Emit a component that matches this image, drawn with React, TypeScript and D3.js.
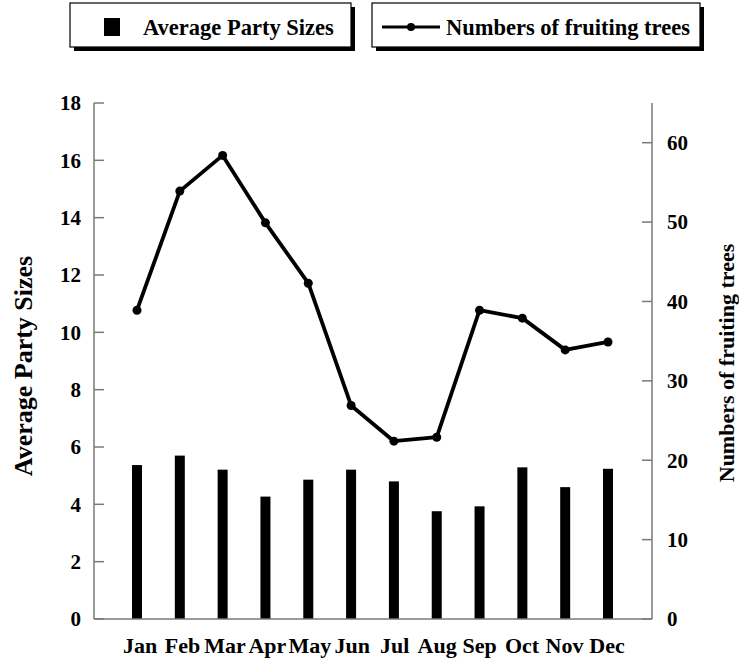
import React from "react";
import * as d3 from "d3";

const months = ["Jan", "Feb", "Mar", "Apr", "May", "Jun", "Jul", "Aug", "Sep", "Oct", "Nov", "Dec"];
const partySizes = [5.37, 5.7, 5.21, 4.27, 4.86, 5.21, 4.8, 3.76, 3.93, 5.29, 4.6, 5.24];
const fruitingTrees = [38.9, 53.9, 58.4, 49.9, 42.3, 26.9, 22.4, 22.9, 38.9, 37.9, 33.9, 34.9];
const leftTicks = [0, 2, 4, 6, 8, 10, 12, 14, 16, 18];
const rightTicks = [0, 10, 20, 30, 40, 50, 60];

const W = 739;
const H = 660;
const FONT = "'Liberation Serif', 'Times New Roman', serif";
const AXIS = "#7a7a7a";

export default function App() {
  const axL = 94;
  const axR = 652;
  const base = 619;
  const top = 103;

  const x = d3.scalePoint<string>().domain(months).range([137, 608]);
  const xLab = d3.scalePoint<string>().domain(months).range([140, 607]);
  const yL = d3.scaleLinear().domain([0, 18]).range([base, top]);
  const yR = d3.scaleLinear().domain([0, 65]).range([base, top]);

  const line = d3
    .line<number>()
    .x((_, i) => x(months[i]) as number)
    .y((d) => yR(d));

  const barW = 10;

  return (
    <svg
      width={W}
      height={H}
      style={{ position: "absolute", left: 0, top: 0, background: "#fff" }}
      fontFamily={FONT}
      fontWeight="bold"
    >
      <rect x={0} y={0} width={W} height={H} fill="#fff" />

      {/* Legend */}
      <g>
        <rect x={74} y={7} width={281} height={44} fill="#000" />
        <rect x={70} y={3} width={281} height={44} fill="#fff" stroke="#000" strokeWidth={1.2} />
        <rect x={104} y={18} width={16} height={18} fill="#000" />
        <text x={143} y={35} fontSize={22.5}>Average Party Sizes</text>

        <rect x={376} y={7} width={328} height={44} fill="#000" />
        <rect x={372} y={3} width={328} height={44} fill="#fff" stroke="#000" strokeWidth={1.2} />
        <line x1={382} x2={440} y1={27} y2={27} stroke="#000" strokeWidth={3} />
        <circle cx={411} cy={27} r={4} fill="#000" />
        <text x={446} y={35} fontSize={22.5}>Numbers of fruiting trees</text>
      </g>

      {/* Bars */}
      {partySizes.map((v, i) => (
        <rect
          key={months[i]}
          x={(x(months[i]) as number) - barW / 2}
          y={yL(v)}
          width={barW}
          height={base - yL(v)}
          fill="#000"
        />
      ))}

      {/* Axes */}
      <line x1={axL} x2={axL} y1={top} y2={base} stroke={AXIS} strokeWidth={1.5} />
      <line x1={axR} x2={axR} y1={top} y2={base} stroke={AXIS} strokeWidth={1.5} />
      <line x1={axL} x2={axR} y1={base} y2={base} stroke={AXIS} strokeWidth={1.5} />

      {leftTicks.map((t) => (
        <g key={"l" + t}>
          <line x1={axL} x2={axL + 10} y1={yL(t)} y2={yL(t)} stroke={AXIS} strokeWidth={1.5} />
          <text x={81} y={yL(t)} dy="0.35em" textAnchor="end" fontSize={21}>
            {t}
          </text>
        </g>
      ))}
      {rightTicks.map((t) => (
        <g key={"r" + t}>
          <line x1={axR - 10} x2={axR} y1={yR(t)} y2={yR(t)} stroke={AXIS} strokeWidth={1.5} />
          <text x={667} y={yR(t)} dy="0.35em" textAnchor="start" fontSize={21}>
            {t}
          </text>
        </g>
      ))}

      {/* Line */}
      <path d={line(fruitingTrees) || ""} fill="none" stroke="#000" strokeWidth={3.8} strokeLinejoin="round" />
      {fruitingTrees.map((v, i) => (
        <circle key={"p" + i} cx={x(months[i]) as number} cy={yR(v)} r={4.5} fill="#000" />
      ))}

      {/* Month labels */}
      {months.map((m) => (
        <text key={"m" + m} x={xLab(m) as number} y={653} textAnchor="middle" fontSize={22}>
          {m}
        </text>
      ))}

      {/* Axis titles */}
      <text transform={`translate(32, 366) rotate(-90)`} textAnchor="middle" fontSize={26}>
        Average Party Sizes
      </text>
      <text transform={`translate(734, 363) rotate(-90)`} textAnchor="middle" fontSize={22}>
        Numbers of fruiting trees
      </text>
    </svg>
  );
}
